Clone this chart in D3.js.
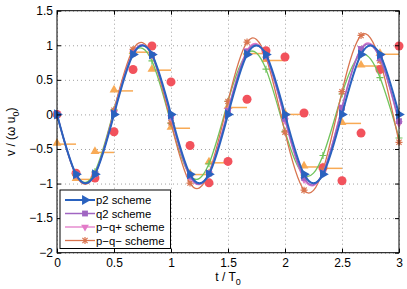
<!DOCTYPE html>
<html>
<head>
<meta charset="utf-8">
<script src="https://cdn.jsdelivr.net/npm/d3@7"></script>
<style>
body { margin: 0; background: #fff; }
text { font-family: "Liberation Sans", Arial, sans-serif; }
</style>
</head>
<body>
<div id="chart"></div>
<script>
// sample times t / T0
const times = [0, 0.167, 0.333, 0.5, 0.667, 0.833, 1, 1.167, 1.333, 1.5, 1.667, 1.833, 2, 2.167, 2.333, 2.5, 2.667, 2.833, 3];

// schemes
const p2 = [0, -0.866, -0.866, 0, 0.866, 0.866, 0, -0.866, -0.866, 0, 0.866, 0.866, 0, -0.866, -0.866, 0, 0.866, 0.866, 0];
const q2 = [0, -0.870, -0.864, 0.016, 0.882, 0.860, -0.032, -0.895, -0.855, 0.048, 0.906, 0.841, -0.064, -0.918, -0.846, 0.096, 0.943, 0.812, -0.097];
const pqPlus = [0, -0.873, -0.864, 0.021, 0.890, 0.860, -0.043, -0.906, -0.855, 0.064, 0.924, 0.851, -0.087, -0.941, -0.846, 0.109, 0.956, 0.827, -0.131];
const pqMinus = [0, -0.884, -0.864, 0.060, 0.940, 0.857, -0.122, -0.993, -0.845, 0.188, 1.046, 0.828, -0.257, -1.095, -0.806, 0.329, 1.142, 0.778, -0.403];
const greenVals = [0, -0.870, -0.829, 0.066, 0.880, 0.773, -0.129, -0.884, -0.715, 0.189, 0.882, 0.655, -0.244, -0.876, -0.594, 0.295, 0.865, 0.533, -0.341];
const redDots = [0, -0.85, -0.92, -0.25, 0.65, 0.99, 0.47, -0.45, -0.99, -0.68, 0.22, 0.92, 0.83, 0.02, -0.77, -0.96, -0.27, 0.65, 0.99];
// orange steps: value held from times[k] to times[k+1]
const orangeSteps = [-0.43, -0.94, -0.55, 0.34, 0.90, 0.64, -0.20, -0.87, -0.70, 0.10, 0.88, 0.78, 0.00, -0.76, -0.78, -0.13, 0.70, 0.87];

const xTicks = [0, 0.5, 1, 1.5, 2, 2.5, 3];
const yTicks = [-2, -1.5, -1, -0.5, 0, 0.5, 1, 1.5];
const legendNames = ["p2 scheme", "q2 scheme", "p\u2212q+ scheme", "p\u2212q\u2212 scheme"];

const W = 407, H = 289;
const margin = {top: 10.7, right: 8, bottom: 36.3, left: 57};
const width = W - margin.left - margin.right,
      height = H - margin.top - margin.bottom;

const svg = d3.select("#chart").append("svg")
    .attr("width", W).attr("height", H);
const g = svg.append("g")
    .attr("transform", `translate(${margin.left}, ${margin.top})`);

const x = d3.scaleLinear().domain([0, 3]).range([0, width]);
const y = d3.scaleLinear().domain([-2, 1.5]).range([height, 0]);
const fmt = d => String(d).replace("-", "\u2212");

// grid
g.append("g")
    .attr("transform", `translate(0, ${height})`)
    .call(d3.axisBottom(x).tickValues(xTicks).tickSize(-height).tickFormat(""))
    .call(a => a.select(".domain").remove())
    .selectAll("line").attr("stroke", "#8a8a8a").attr("stroke-width", 0.8).attr("stroke-dasharray", "1,3");
g.append("g")
    .call(d3.axisLeft(y).tickValues(yTicks).tickSize(-width).tickFormat(""))
    .call(a => a.select(".domain").remove())
    .selectAll("line").attr("stroke", "#8a8a8a").attr("stroke-width", 0.8).attr("stroke-dasharray", "1,3");

const line = d3.line().x((d, i) => x(times[i])).y(d => y(d)).curve(d3.curveNatural);

// orange steps with triangles
const orange = "#f8aa55";
g.append("g").selectAll("line")
    .data(orangeSteps)
    .join("line")
    .attr("x1", (d, i) => x(times[i])).attr("x2", (d, i) => x(times[i + 1]))
    .attr("y1", d => y(d)).attr("y2", d => y(d))
    .attr("stroke", orange).attr("stroke-width", 1.5);
g.append("g").selectAll("path")
    .data(orangeSteps)
    .join("path")
    .attr("d", d3.symbol(d3.symbolTriangle).size(34))
    .attr("transform", (d, i) => `translate(${x(times[i])}, ${y(d) - 1})`)
    .attr("fill", orange);

// red dots
g.append("g").selectAll("circle")
    .data(redDots)
    .join("circle")
    .attr("cx", (d, i) => x(times[i])).attr("cy", d => y(d))
    .attr("r", 4.5).attr("fill", "#f2525c");

const plusPath = "M-3.5,0H3.5M0,-3.5V3.5";
const starPath = "M-3.5,0H3.5M0,-3.5V3.5M-2.6,-2.6L2.6,2.6M-2.6,2.6L2.6,-2.6";

const series = [
  {vals: greenVals, color: "#71c45c", w: 1.3, marker: "plus"},
  {vals: pqMinus, color: "#d9744f", w: 1.3, marker: "star"},
  {vals: pqPlus, color: "#e27ac8", w: 1.3, marker: "down"},
  {vals: q2, color: "#a065c2", w: 1.5, marker: "square"},
  {vals: p2, color: "#2a62bf", w: 2, marker: "right"}
];

function drawMarker(sel, type, color) {
  if (type === "plus" || type === "star") {
    sel.append("path").attr("d", type === "plus" ? plusPath : starPath)
        .attr("fill", "none").attr("stroke", color).attr("stroke-width", 1.2);
  } else if (type === "square") {
    sel.append("path").attr("d", d3.symbol(d3.symbolSquare).size(34)).attr("fill", color);
  } else if (type === "down") {
    sel.append("path").attr("d", d3.symbol(d3.symbolTriangle).size(26))
        .attr("transform", "rotate(180)").attr("fill", color);
  } else if (type === "right") {
    sel.append("path").attr("d", d3.symbol(d3.symbolTriangle).size(44))
        .attr("transform", "rotate(90)").attr("fill", color);
  }
}

series.forEach(s => {
  g.append("path").datum(s.vals)
      .attr("d", line)
      .attr("fill", "none").attr("stroke", s.color).attr("stroke-width", s.w);
  g.append("g").selectAll("g")
      .data(s.vals)
      .join("g")
      .attr("transform", (d, i) => `translate(${x(times[i])}, ${y(d)})`)
      .each(function() { drawMarker(d3.select(this), s.marker, s.color); });
});

// box and inward ticks
g.append("rect").attr("width", width).attr("height", height)
    .attr("fill", "none").attr("stroke", "#000").attr("stroke-width", 1);
const axisStyle = a => {
  a.select(".domain").remove();
  a.selectAll("line").attr("stroke", "#000");
  a.selectAll("text").attr("font-size", 12).attr("fill", "#000")
      .style("font-family", '"Liberation Sans", Arial, sans-serif');
};
g.append("g").attr("transform", `translate(0, ${height})`)
    .call(d3.axisBottom(x).tickValues(xTicks).tickSizeInner(-4).tickSizeOuter(0).tickPadding(6).tickFormat(fmt))
    .call(axisStyle);
g.append("g")
    .call(d3.axisLeft(y).tickValues(yTicks).tickSizeInner(-4).tickSizeOuter(0).tickPadding(4).tickFormat(fmt))
    .call(axisStyle);
g.append("g")
    .call(d3.axisTop(x).tickValues(xTicks).tickSizeInner(-4).tickSizeOuter(0).tickFormat(""))
    .call(axisStyle);
g.append("g").attr("transform", `translate(${width}, 0)`)
    .call(d3.axisRight(y).tickValues(yTicks).tickSizeInner(-4).tickSizeOuter(0).tickFormat(""))
    .call(axisStyle);

// axis labels
const xl = svg.append("text")
    .attr("x", margin.left + width / 2).attr("y", 280.5)
    .attr("text-anchor", "middle").attr("font-size", 12);
xl.append("tspan").text("t / T");
xl.append("tspan").attr("dy", 4).attr("font-size", 9).text("0");

const yl = svg.append("text")
    .attr("transform", `translate(15, ${margin.top + height / 2}) rotate(-90)`)
    .attr("text-anchor", "middle").attr("font-size", 12);
yl.append("tspan").text("v / (\u03c9 u");
yl.append("tspan").attr("dy", 4).attr("font-size", 9).text("0");
yl.append("tspan").attr("dy", -4).text(")");

// legend
const leg = svg.append("g").attr("transform", "translate(60, 190)");
leg.append("rect").attr("width", 110.5).attr("height", 58.5)
    .attr("fill", "#fff").attr("stroke", "#000").attr("stroke-width", 1);
const legSeries = [series[4], series[3], series[2], series[1]];
legSeries.forEach((s, i) => {
  const row = leg.append("g").attr("transform", `translate(0, ${10 + i * 13.5})`);
  row.append("line").attr("x1", 5).attr("x2", 35).attr("y1", 0).attr("y2", 0)
      .attr("stroke", s.color).attr("stroke-width", s.w);
  drawMarker(row.append("g").attr("transform", "translate(25, 0)"), s.marker, s.color);
  row.append("text").attr("x", 36).attr("y", 4.2).attr("font-size", 11.3).text(legendNames[i]);
});
</script>
</body>
</html>
